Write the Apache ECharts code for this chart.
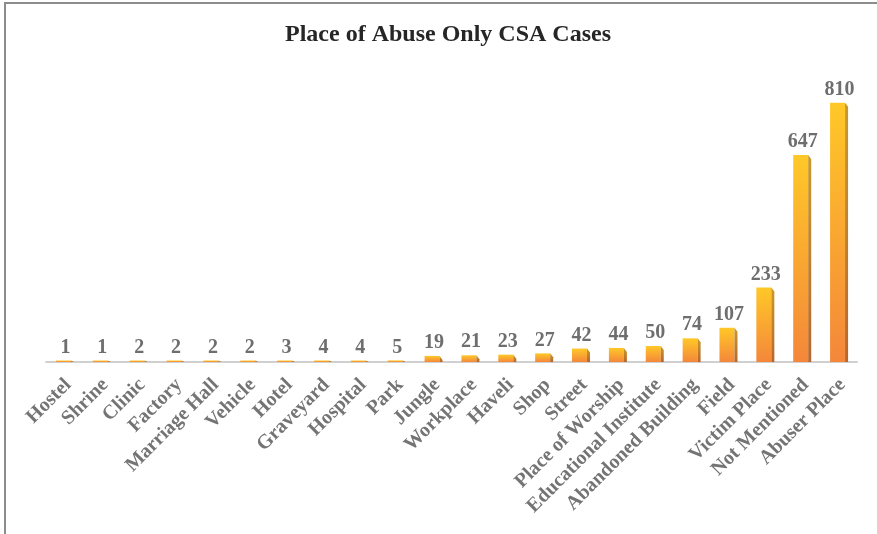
<!DOCTYPE html>
<html><head><meta charset="utf-8">
<script src="https://cdn.jsdelivr.net/npm/echarts@6/dist/echarts.min.js"></script>
<style>html,body{margin:0;padding:0;background:#fff}#c{width:877px;height:534px}</style>
</head><body><div id="c"></div>
<script>
const categories = ['Hostel','Shrine','Clinic','Factory','Marriage Hall','Vehicle','Hotel','Graveyard','Hospital','Park','Jungle','Workplace','Haveli','Shop','Street','Place of Worship','Educational Institute','Abandoned Building','Field','Victim Place','Not Mentioned','Abuser Place'];
const values = [1,1,2,2,2,2,3,4,4,5,19,21,23,27,42,44,50,74,107,233,647,810];
const titleText = 'Place of Abuse Only CSA Cases';

const chart = echarts.init(document.getElementById('c'), null, {renderer:'canvas'});
const serif = '"Liberation Serif","Times New Roman",serif';
chart.setOption({
  animation:false,
  backgroundColor:'#fff',
  title:{text:titleText,left:285,top:23,padding:0,textStyle:{fontFamily:serif,fontWeight:'bold',fontSize:24,color:'#262626'}},
  graphic:[{type:'rect',shape:{x:5,y:3,width:900,height:600},style:{fill:'none',stroke:'#8c8c8c',lineWidth:2},z:100}],
  grid:{left:46,right:20,top:74,bottom:172},
  xAxis:{type:'category',data:categories,
    axisLine:{lineStyle:{color:'#d0d0d0',width:2}},axisTick:{show:false},
    axisLabel:{interval:0,rotate:45,margin:16,verticalAlign:'top',lineHeight:11,fontFamily:serif,fontWeight:'bold',fontSize:20,color:'#747474'}},
  yAxis:{type:'value',min:0,max:900,show:false,splitLine:{show:false}},
  series:[{type:'custom',data:values.map((v,i)=>[i,v]),
    renderItem:function(params,api){
      const i=api.value(0), v=api.value(1);
      const top=api.coord([i,v]); const base=api.coord([i,0]);
      const fw=15, sw=3, cx=top[0]-1;
      const x0=cx-fw/2, x1=cx+fw/2;
      const h=Math.max(base[1]-top[1],1.5);
      const y0=base[1]-h;
      const sl=Math.min(4,h);
      return {type:'group',children:[
        {type:'rect',shape:{x:x0,y:y0,width:fw,height:h},
          style:{fill:new echarts.graphic.LinearGradient(0,0,0,1,[{offset:0,color:'#FFC828'},{offset:1,color:'#F4873A'}])}},
        {type:'polygon',shape:{points:[[x1,y0],[x1+sw,y0+sl],[x1+sw,base[1]],[x1,base[1]]]},
          style:{fill:new echarts.graphic.LinearGradient(0,0,0,1,[{offset:0,color:'#C99A2A'},{offset:1,color:'#B8662C'}])}},
        {type:'text',style:{text:String(v),x:cx+2,y:y0-3,align:'center',verticalAlign:'bottom',
          font:'bold 20px '+serif,fill:'#6e6e6e'}}
      ]};
    }}]
});
</script></body></html>
